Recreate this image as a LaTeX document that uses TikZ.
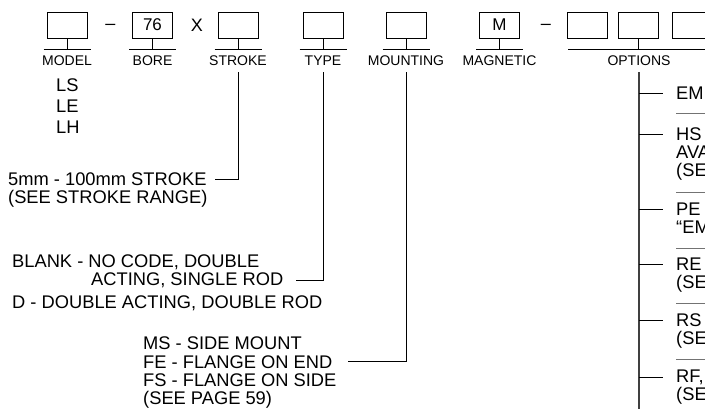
\documentclass[tikz,border=0pt]{standalone}
\usepackage{fontspec}
\setmainfont{Liberation Sans}
\tikzset{
  codebox/.style={draw, line width=0.9pt, minimum width=40pt, minimum height=26pt,
    inner sep=0pt, font=\fontsize{17}{17}\selectfont},
  fieldlab/.style={font=\fontsize{14}{14}\selectfont, anchor=base, inner sep=0pt},
  desc/.style={font=\fontsize{18.3}{18}\selectfont, anchor=base west, inner sep=0pt},
  rule/.style={line width=0.9pt},
  trunkline/.style={line width=1.5pt, black!75},
  seprule/.style={line width=0.8pt, black!55},
}
\begin{document}
\begin{tikzpicture}[x=1pt,y=-1pt]
  \useasboundingbox (0,0) rectangle (705,409);
  \clip (0,0) rectangle (705,409);
  % code boxes with their field names
  \foreach \x/\name/\txt/\lab in {67/model//MODEL,152.5/bore/76/BORE,238/stroke//STROKE,
      323/type//TYPE,406/mount//MOUNTING,499.5/magnet/M/MAGNETIC}{
    \node[codebox] (b\name) at (\x,25) {\txt};
    \coordinate (u\name) at (\x,49);
    \draw[rule] (b\name.south) -- (u\name);
    \draw[rule] ([xshift=-23.5pt]u\name) -- ([xshift=23.5pt]u\name);
    \node[fieldlab] (l\name) at (\x,66) {\lab};
  }
  % separators between the boxes
  \node[font=\fontsize{18}{18}\selectfont, inner sep=0pt] (dashA) at (110.5,27) {–};
  \node[font=\fontsize{18}{18}\selectfont, inner sep=0pt] (times) at (197,25.5) {X};
  \node[font=\fontsize{18}{18}\selectfont, inner sep=0pt] (dashB) at (546,27) {–};
  % option boxes (third one runs off the edge)
  \foreach \x/\name in {587.5/optA,638.5/optB,692/optC}
    \node[codebox] (\name) at (\x,25) {};
  \coordinate (uopt) at (638.5,49);
  \draw[rule] (optB.south) -- (uopt);
  \draw[rule] (568,49) -- (712,49);
  \node[fieldlab] (lopt) at (639,66) {OPTIONS};
  % model codes
  \foreach \y/\m in {92/LS,112.5/LE,133.5/LH}
    \node[desc] (m\m) at (56,\y) {\m};
  % stroke
  \node[desc] (t5mm) at (8,185.5) {5mm - 100mm STROKE};
  \node[desc] (tsee) at (8,204) {(SEE STROKE RANGE)};
  \draw[rule] ([yshift=-6pt]lstroke.south) |- ([xshift=8pt]t5mm.east);
  % type
  \node[desc] (tblank) at (12,267.5) {BLANK - NO CODE, DOUBLE};
  \node[desc] (tacting) at (91,285.5) {ACTING, SINGLE ROD};
  \node[desc] (tdouble) at (12,308.5) {D - DOUBLE ACTING, DOUBLE ROD};
  \draw[rule] ([yshift=-6pt]ltype.south) |- ([xshift=12pt]tacting.east);
  % mounting
  \node[desc] (tms) at (143,349.5) {MS - SIDE MOUNT};
  \node[desc] (tfe) at (143,368) {FE - FLANGE ON END};
  \node[desc] (tfs) at (143,386) {FS - FLANGE ON SIDE};
  \node[desc] (tpage) at (143,404) {(SEE PAGE 59)};
  \draw[rule] ([yshift=-6pt]lmount.south) |- ([xshift=15pt]tfe.east);
  % options list
  \coordinate (trunk) at (639,412);
  \draw[trunkline] ([yshift=-6pt]lopt.south) -- (lopt.south |- trunk);
  \foreach \y/\nm/\txt in {99.5/oEM/EM,140.5/oHS/HS,215.5/oPE/PE -,270.5/oRE/RE,
      326.5/oRS/RS,382.5/oRF/{RF,}}{
    \node[desc] (\nm) at (676,\y) {\txt};
    \draw[rule] (lopt.south |- \nm.west) -- ([xshift=-13pt]\nm.west);
  }
  \foreach \y/\nm/\txt in {158.5/cHSa/AVA,176.5/cHSb/(SE,233.5/cPE/“EM,288.5/cRE/(SE,
      344.5/cRS/(SE,400.5/cRF/(SE}
    \node[desc] (\nm) at (676,\y) {\txt};
  \foreach \y in {113,192,248,303,359}
    \draw[seprule] (676,\y) -- (706,\y);
\end{tikzpicture}
\end{document}
